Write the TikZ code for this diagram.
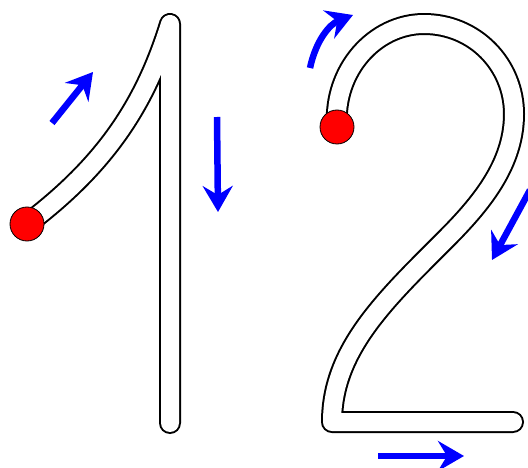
\documentclass[tikz,border=0pt]{standalone}
\usetikzlibrary{arrows.meta}

\begin{document}
\begin{tikzpicture}[
    x=1pt, y=-1pt,
    digit/.style={draw=black, double=white, double distance=18pt, line width=2pt, line cap=round, line join=round},
    startdot/.style={circle, draw=black, line width=0.8pt, fill=red, minimum size=34pt, inner sep=0pt},
    hint/.style={draw=blue, line width=6.5pt, -{Stealth[length=26pt, width=30pt, inset=9pt]}}
]
    \useasboundingbox (0,0) rectangle (528,468);

    % digit one
    \coordinate (onestart) at (27,224);
    \coordinate (onetop) at (170,24);
    \coordinate (onefoot) at (170,423);
    \draw[digit] (onestart) .. controls (105,165) and (145,105) .. (onetop) -- (onefoot);
    \node[startdot] (dotone) at (onestart) {};

    % digit two
    \coordinate (twostart) at (337,127);
    \coordinate (twotop) at (424,24);
    \coordinate (tworight) at (514,114);
    \coordinate (twocorner) at (332,422);
    \coordinate (twoend) at (513,422);
    \draw[digit] (twostart) .. controls (333,70) and (375,24) .. (twotop)
        .. controls (475,24) and (514,65) .. (tworight)
        .. controls (514,165) and (480,205) .. (445,240)
        .. controls (385,300) and (332,350) .. (twocorner) -- (twoend);
    \node[startdot] (dottwo) at (twostart) {};

    % direction hints
    \coordinate (upA) at (52,123);
    \coordinate (upB) at (93,72);
    \coordinate (downA) at (217,117);
    \coordinate (downB) at (218,212);
    \coordinate (curlA) at (310,68);
    \coordinate (curlB) at (353,15);
    \coordinate (slopeA) at (530,190);
    \coordinate (slopeB) at (492,260);
    \coordinate (baseA) at (378,456);
    \coordinate (baseB) at (464,456);
    \draw[hint] (upA) -- (upB);
    \draw[hint] (downA) -- (downB);
    \draw[hint] (curlA) .. controls (316,40) and (330,24) .. (curlB);
    \draw[hint] (slopeA) -- (slopeB);
    \draw[hint] (baseA) -- (baseB);
\end{tikzpicture}
\end{document}
